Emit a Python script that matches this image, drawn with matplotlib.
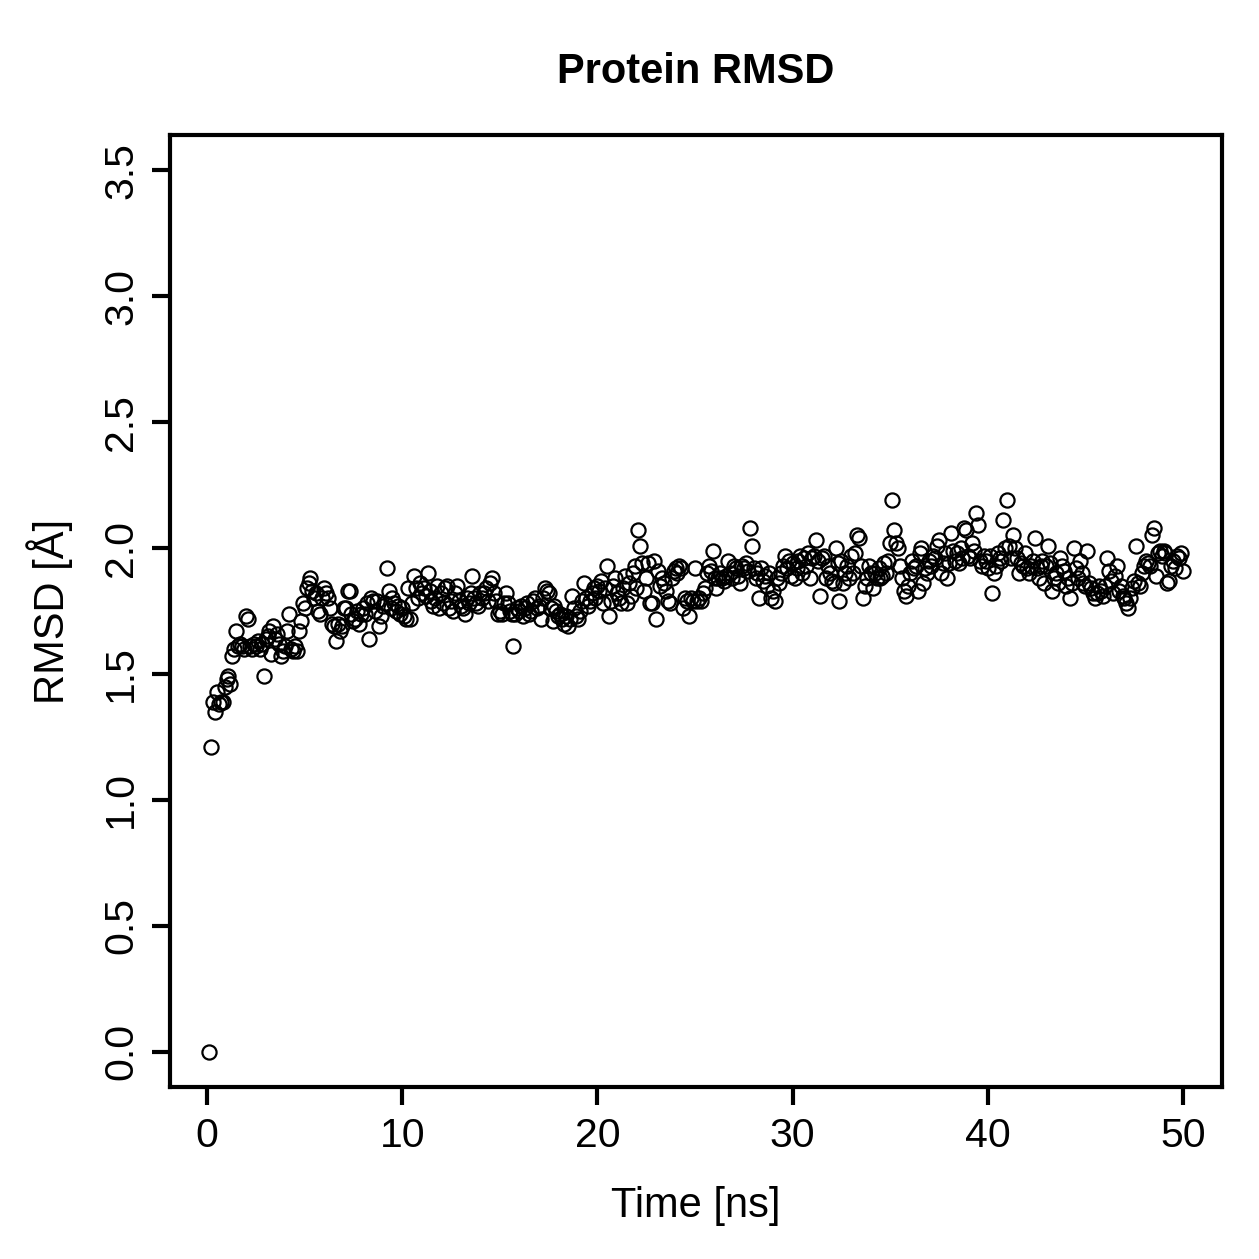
import matplotlib
matplotlib.use('Agg')
import matplotlib.pyplot as plt
import numpy as np

plt.rcParams['font.family'] = ['Liberation Sans', 'DejaVu Sans']

title = "Protein RMSD"
xlabel = "Time [ns]"
ylabel = "RMSD [Å]"
xticks = [0, 10, 20, 30, 40, 50]
yticks = [0.0, 0.5, 1.0, 1.5, 2.0, 2.5, 3.0, 3.5]
ytick_labels = ["0.0", "0.5", "1.0", "1.5", "2.0", "2.5", "3.0", "3.5"]

# RMSD per frame, 10 frames per ns (t = 0.1 ... 50.0 ns)
rmsd_00_09 = [
    0.00, 1.21, 1.39, 1.35, 1.43, 1.38, 1.39, 1.39, 1.45, 1.48,
    1.49, 1.46, 1.57, 1.60, 1.67, 1.61, 1.62, 1.61, 1.60, 1.73,
    1.72, 1.61, 1.60, 1.62, 1.61, 1.63, 1.60, 1.62, 1.49, 1.64,
    1.65, 1.67, 1.58, 1.69, 1.64, 1.66, 1.62, 1.57, 1.59, 1.61,
    1.67, 1.74, 1.60, 1.59, 1.61, 1.59, 1.67, 1.71, 1.78, 1.76,
    1.84, 1.86, 1.88, 1.83, 1.80, 1.82, 1.75, 1.74, 1.80, 1.84,
    1.82, 1.80, 1.76, 1.70, 1.69, 1.63, 1.70, 1.67, 1.69, 1.76,
    1.76, 1.83, 1.83, 1.74, 1.71, 1.72, 1.75, 1.70, 1.74, 1.76,
    1.74, 1.78, 1.64, 1.80, 1.79, 1.75, 1.79, 1.69, 1.73, 1.77,
    1.78, 1.92, 1.83, 1.76, 1.80, 1.78, 1.75, 1.77, 1.74, 1.76,
]
rmsd_10_19 = [
    1.73, 1.72, 1.84, 1.72, 1.78, 1.89, 1.84, 1.80, 1.86, 1.82,
    1.84, 1.81, 1.90, 1.83, 1.79, 1.77, 1.80, 1.85, 1.76, 1.82,
    1.78, 1.84, 1.85, 1.76, 1.79, 1.75, 1.82, 1.85, 1.79, 1.77,
    1.76, 1.74, 1.80, 1.78, 1.82, 1.89, 1.80, 1.78, 1.77, 1.82,
    1.80, 1.82, 1.84, 1.79, 1.86, 1.88, 1.82, 1.79, 1.74, 1.75,
    1.74, 1.78, 1.82, 1.78, 1.75, 1.74, 1.61, 1.74, 1.76, 1.75,
    1.77, 1.73, 1.76, 1.78, 1.74, 1.75, 1.79, 1.80, 1.76, 1.77,
    1.72, 1.80, 1.84, 1.83, 1.82, 1.76, 1.71, 1.77, 1.75, 1.73,
    1.74, 1.72, 1.70, 1.73, 1.69, 1.72, 1.81, 1.76, 1.73, 1.72,
    1.75, 1.79, 1.86, 1.80, 1.77, 1.79, 1.82, 1.84, 1.80, 1.85,
]
rmsd_20_29 = [
    1.83, 1.87, 1.78, 1.84, 1.93, 1.73, 1.79, 1.85, 1.88, 1.82,
    1.80, 1.78, 1.84, 1.89, 1.78, 1.86, 1.81, 1.90, 1.93, 1.84,
    2.07, 2.01, 1.94, 1.83, 1.88, 1.94, 1.78, 1.78, 1.95, 1.72,
    1.91, 1.85, 1.88, 1.86, 1.83, 1.79, 1.78, 1.88, 1.91, 1.92,
    1.90, 1.93, 1.92, 1.76, 1.80, 1.79, 1.73, 1.80, 1.79, 1.92,
    1.79, 1.80, 1.79, 1.82, 1.84, 1.90, 1.93, 1.91, 1.99, 1.88,
    1.84, 1.88, 1.90, 1.88, 1.87, 1.89, 1.95, 1.90, 1.88, 1.93,
    1.92, 1.89, 1.86, 1.93, 1.92, 1.94, 1.91, 2.08, 2.01, 1.92,
    1.88, 1.90, 1.80, 1.92, 1.87, 1.89, 1.85, 1.90, 1.80, 1.83,
    1.79, 1.88, 1.86, 1.90, 1.93, 1.97, 1.92, 1.95, 1.89, 1.94,
]
rmsd_30_39 = [
    1.88, 1.92, 1.95, 1.97, 1.90, 1.96, 1.93, 1.98, 1.88, 1.96,
    1.97, 2.03, 1.95, 1.81, 1.96, 1.97, 1.88, 1.93, 1.90, 1.87,
    1.86, 2.00, 1.94, 1.79, 1.95, 1.86, 1.90, 1.93, 1.88, 1.97,
    1.90, 1.98, 2.05, 2.04, 1.93, 1.80, 1.85, 1.88, 1.93, 1.90,
    1.84, 1.90, 1.88, 1.92, 1.88, 1.89, 1.94, 1.90, 1.95, 2.02,
    2.19, 2.07, 2.02, 2.00, 1.93, 1.88, 1.83, 1.81, 1.85, 1.90,
    1.95, 1.92, 1.93, 1.83, 1.98, 2.00, 1.86, 1.92, 1.90, 1.95,
    1.93, 1.97, 1.96, 2.01, 2.03, 1.90, 1.94, 1.98, 1.88, 1.94,
    2.06, 1.99, 1.95, 1.98, 1.94, 2.00, 1.96, 2.08, 2.07, 1.97,
    1.96, 2.02, 1.99, 2.14, 2.09, 1.95, 1.93, 1.97, 1.95, 1.92,
]
rmsd_40_49 = [
    1.97, 1.82, 1.90, 1.93, 1.98, 1.96, 1.95, 2.11, 2.00, 2.19,
    2.01, 1.96, 2.05, 2.00, 1.96, 1.90, 1.94, 1.93, 1.98, 1.92,
    1.90, 1.93, 1.95, 2.04, 1.92, 1.88, 1.93, 1.95, 1.86, 1.93,
    2.01, 1.94, 1.83, 1.88, 1.90, 1.86, 1.96, 1.93, 1.91, 1.85,
    1.88, 1.80, 1.86, 2.00, 1.92, 1.88, 1.95, 1.90, 1.86, 1.85,
    1.99, 1.86, 1.84, 1.82, 1.80, 1.82, 1.85, 1.83, 1.81, 1.85,
    1.96, 1.91, 1.87, 1.82, 1.89, 1.93, 1.83, 1.85, 1.81, 1.80,
    1.78, 1.76, 1.80, 1.84, 1.87, 2.01, 1.86, 1.85, 1.90, 1.93,
    1.95, 1.94, 1.93, 2.05, 2.08, 1.89, 1.98, 1.99, 1.97, 1.99,
    1.98, 1.86, 1.87, 1.93, 1.95, 1.92, 1.97, 1.96, 1.98, 1.91,
]

rmsd = rmsd_00_09 + rmsd_10_19 + rmsd_20_29 + rmsd_30_39 + rmsd_40_49
frame_step_ns = 0.1
time_ns = [(i + 1) * frame_step_ns for i in range(len(rmsd))]

W = H = 1259
DPI = 100
fig = plt.figure(figsize=(W / DPI, H / DPI), dpi=DPI)
fig.patch.set_facecolor('white')

L, R, T, B = 170, 1222, 135, 1087
ax = fig.add_axes([L / W, 1 - B / H, (R - L) / W, (B - T) / H])

ax.plot(time_ns, rmsd, linestyle='none', marker='o', markersize=10.2,
        markerfacecolor='none', markeredgecolor='black', markeredgewidth=1.6)

ax.set_xlim(-1.896, 51.996)
ax.set_ylim(-0.14, 3.64)

lw = 3.0
for s in ax.spines.values():
    s.set_linewidth(lw)
    s.set_color('black')

ax.set_xticks(xticks)
ax.set_xticklabels([str(v) for v in xticks])
ax.set_yticks(yticks)
ax.set_yticklabels(ytick_labels, rotation=90, va='center')
ax.tick_params(axis='both', direction='out', length=13, width=lw,
               labelsize=29.5, pad=8.6, colors='black')

fig.text(696 / W, 1 - 83 / H, title, ha='center', va='baseline',
         fontsize=30, fontweight='bold')
fig.text(696 / W, 1 - 1217 / H, xlabel, ha='center', va='baseline',
         fontsize=30)
fig.text(64 / W, 1 - 611 / H, ylabel, ha='center', va='baseline',
         rotation=90, rotation_mode='anchor', fontsize=30)

fig.savefig('out.png', dpi=DPI, facecolor='white')
